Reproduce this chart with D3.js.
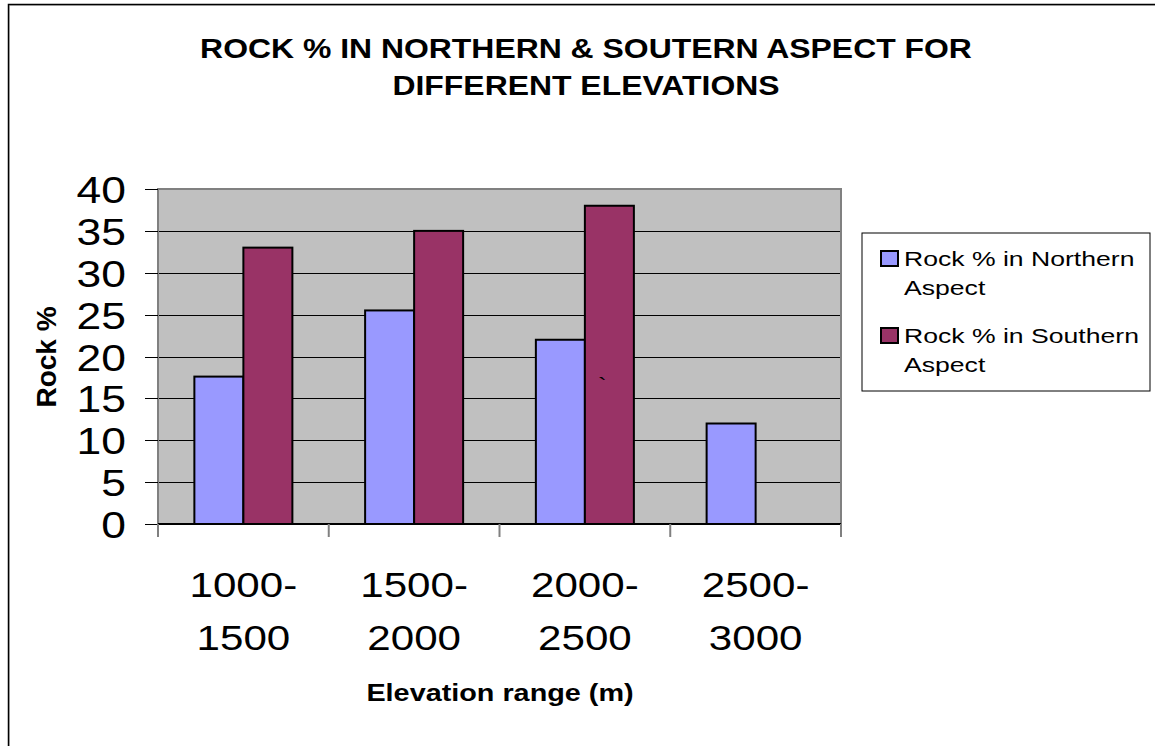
<!DOCTYPE html>
<html>
<head>
<meta charset="utf-8">
<script src="https://cdn.jsdelivr.net/npm/d3@7"></script>
<style>
  html, body { margin: 0; padding: 0; background: #fff; }
  svg { display: block; }
  text { font-family: Arial, "Liberation Sans", sans-serif; fill: #000; }
</style>
</head>
<body>
<svg id="chart" width="1155" height="746"></svg>
<script>
// Data
const categories = [["1000-", "1500"], ["1500-", "2000"], ["2000-", "2500"], ["2500-", "3000"]];
const seriesNames = ["Rock % in Northern Aspect", "Rock % in Southern Aspect"];
const northern = [17.6, 25.5, 22, 12];
const southern = [33, 35, 38, null];
const yTicks = [0, 5, 10, 15, 20, 25, 30, 35, 40];
const titleLines = ["ROCK % IN NORTHERN & SOUTERN ASPECT FOR", "DIFFERENT ELEVATIONS"];
const xTitle = "Elevation range (m)";
const yTitle = "Rock %";
const legendLines = [["Rock % in Northern", "Aspect"], ["Rock % in Southern", "Aspect"]];

const colors = ["#9999ff", "#993366"];

const svg = d3.select("#chart");

// outer frame
svg.append("rect").attr("x", 9.5).attr("y", 5.5).attr("width", 1160).attr("height", 760)
  .attr("fill", "none").attr("stroke", "#c8c8c8").attr("stroke-width", 1);
svg.append("rect").attr("x", 8.5).attr("y", 4.5).attr("width", 1160).attr("height", 760)
  .attr("fill", "none").attr("stroke", "#000").attr("stroke-width", 1.5);

const plot = { left: 158, top: 189, right: 841, bottom: 524 };

const x0 = d3.scaleBand().domain(d3.range(categories.length))
  .range([plot.left, plot.right]).paddingInner(0.426).paddingOuter(0.213);
const x1 = d3.scaleBand().domain([0, 1]).range([0, x0.bandwidth()]);
const y = d3.scaleLinear().domain([0, 40]).range([plot.bottom, plot.top]);

// plot background
svg.append("rect").attr("x", plot.left).attr("y", plot.top)
  .attr("width", plot.right - plot.left).attr("height", plot.bottom - plot.top)
  .attr("fill", "#c0c0c0");

// gridlines
svg.append("g").selectAll("line").data(yTicks.filter(t => t > 0 && t < 40)).join("line")
  .attr("x1", plot.left).attr("x2", plot.right)
  .attr("y1", d => Math.round(y(d)) + 0.5).attr("y2", d => Math.round(y(d)) + 0.5)
  .attr("stroke", "#000").attr("stroke-width", 1);

// plot border
svg.append("rect").attr("x", plot.left).attr("y", plot.top)
  .attr("width", plot.right - plot.left).attr("height", plot.bottom - plot.top)
  .attr("fill", "none").attr("stroke", "#808080").attr("stroke-width", 2);

// bars
const seriesData = [northern, southern];
seriesData.forEach((vals, si) => {
  svg.append("g").selectAll("rect").data(vals.map((v, i) => ({ v, i })).filter(d => d.v != null)).join("rect")
    .attr("x", d => x0(d.i) + x1(si))
    .attr("y", d => y(d.v))
    .attr("width", x1.bandwidth())
    .attr("height", d => y(0) - y(d.v))
    .attr("fill", colors[si])
    .attr("stroke", "#000").attr("stroke-width", 2);
});

// y axis
const yAxis = svg.append("g").attr("transform", `translate(${plot.left},0)`);
yAxis.append("line").attr("x1", 0).attr("x2", 0).attr("y1", plot.top).attr("y2", plot.bottom)
  .attr("stroke", "#808080").attr("stroke-width", 2);
yAxis.selectAll("line.tick").data(yTicks).join("line").attr("class", "tick")
  .attr("x1", -13).attr("x2", 0)
  .attr("y1", d => Math.round(y(d)) + 0.5).attr("y2", d => Math.round(y(d)) + 0.5)
  .attr("stroke", "#000").attr("stroke-width", 1);
yAxis.selectAll("text").data(yTicks).join("text")
  .attr("transform", d => `translate(-32,${y(d) + 14}) scale(1.2,1)`)
  .attr("text-anchor", "end").attr("font-size", 37)
  .text(d => d);

// x axis
const xAxis = svg.append("g");
xAxis.append("line").attr("x1", plot.left).attr("x2", plot.right)
  .attr("y1", plot.bottom).attr("y2", plot.bottom).attr("stroke", "#000").attr("stroke-width", 2);
const bounds = d3.range(categories.length + 1).map(i => i < categories.length ? x0(i) - x0.step() * x0.paddingOuter() : plot.right);
xAxis.selectAll("line.tick").data(bounds).join("line").attr("class", "tick")
  .attr("x1", d => d).attr("x2", d => d).attr("y1", plot.bottom).attr("y2", plot.bottom + 13)
  .attr("stroke", "#808080").attr("stroke-width", 2);
categories.forEach((lines, i) => {
  const cx = x0(i) + x0.bandwidth() / 2;
  lines.forEach((ln, li) => {
    xAxis.append("text")
      .attr("transform", `translate(${cx},${597 + li * 53}) scale(1.17,1)`)
      .attr("text-anchor", "middle").attr("font-size", 36).text(ln);
  });
});

// stray mark inside the plot
svg.append("text").attr("transform", `translate(598,392) scale(1.3,1)`)
  .attr("font-size", 20).text("`");

// title
titleLines.forEach((ln, i) => {
  svg.append("text").attr("transform", `translate(586,${58 + i * 37}) scale(1.14,1)`)
    .attr("text-anchor", "middle").attr("font-size", 28).attr("font-weight", "bold").text(ln);
});

// axis titles
svg.append("text").attr("transform", `translate(500,701) scale(1.2,1)`)
  .attr("text-anchor", "middle").attr("font-size", 24).attr("font-weight", "bold").text(xTitle);
svg.append("text").attr("transform", `translate(56,357) rotate(-90)`)
  .attr("text-anchor", "middle").attr("font-size", 28).attr("font-weight", "bold").text(yTitle);

// legend
const lg = svg.append("g");
lg.append("rect").attr("x", 862).attr("y", 233).attr("width", 288).attr("height", 158)
  .attr("fill", "#fff").attr("stroke", "#000").attr("stroke-width", 1);
legendLines.forEach((lines, i) => {
  const base = 266 + i * 77;
  lg.append("rect").attr("x", 881).attr("y", base - 15).attr("width", 17).attr("height", 15)
    .attr("fill", colors[i]).attr("stroke", "#000").attr("stroke-width", 2);
  lines.forEach((ln, li) => {
    lg.append("text").attr("transform", `translate(904,${base + li * 29}) scale(1.33,1)`)
      .attr("font-size", 20).text(ln);
  });
});
</script>
</body>
</html>
